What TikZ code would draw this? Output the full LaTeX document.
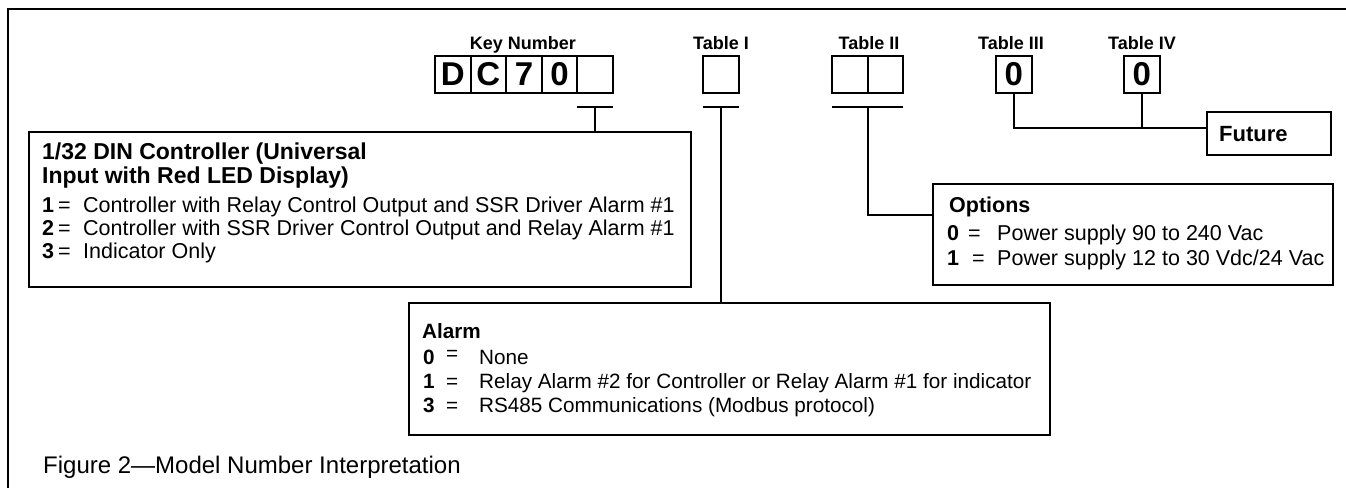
\documentclass[tikz,border=0pt]{standalone}
\usepackage{fontspec}
\setmainfont{Liberation Sans}
\usetikzlibrary{positioning}
\tikzstyle{wire}=[line width=2pt]
\tikzstyle{cell}=[draw,line width=2pt,inner sep=0,outer sep=0,minimum width=35.6pt,minimum height=37pt,anchor=north west,font=\fontsize{33}{33}\selectfont\bfseries]
\tikzstyle{tablabel}=[anchor=base,inner sep=0,font=\fontsize{18}{18}\selectfont\bfseries]
\tikzstyle{infobox}=[draw,line width=2pt,inner sep=0,outer sep=0,anchor=north west]
\tikzstyle{txt}=[anchor=base west,inner sep=0,font=\fontsize{21.5}{24}\selectfont]
\tikzstyle{head}=[anchor=base west,inner sep=0,font=\fontsize{21.5}{24}\selectfont\bfseries]

\begin{document}
\begin{tikzpicture}[x=1pt,y=-1pt]
\useasboundingbox (0,0) rectangle (1346,488);
\draw[wire] (1346,9) -- (8,9) -- (8,488);

% model number boxes
\node[tablabel] (keylbl) at (523,49) {Key Number};
\foreach \t [count=\i] in {D,C,7,0,{}}
	\node[cell] (key\i) at ({435+35.6*(\i-1)},56) {\t};
\node[tablabel] (tab1lbl) at (721,49) {Table I};
\node[cell] (tab1) at (703,56) {};
\node[tablabel] (tab2lbl) at (869,49) {Table II};
\node[cell] (tab2a) at (832,56) {};
\node[cell] (tab2b) at (867.6,56) {};
\node[tablabel] (tab3lbl) at (1011,49) {Table III};
\node[cell] (tab3) at (996,56) {0};
\node[tablabel] (tab4lbl) at (1142,49) {Table IV};
\node[cell] (tab4) at (1124,56) {0};

% description boxes
\node[infobox,minimum width=662pt,minimum height=155pt] (ctrl) at (29,132) {};
\node[infobox,minimum width=400pt,minimum height=101pt] (opt) at (933,184) {};
\node[infobox,minimum width=641pt,minimum height=132pt] (alarm) at (409,303) {};
\node[infobox,minimum width=124pt,minimum height=43pt] (future) at (1207,112) {};

% bars and connectors
\coordinate (keybar) at ([yshift=-14pt]key5.south);
\draw[wire] ([yshift=-14pt]key5.south west) -- ([yshift=-14pt]key5.south east);
\draw[wire] (keybar) -- (keybar |- ctrl.north);
\coordinate (tab1bar) at ([yshift=-14pt]tab1.south);
\draw[wire] ([yshift=-14pt]tab1.south west) -- ([yshift=-14pt]tab1.south east);
\draw[wire] (tab1bar) -- (tab1bar |- alarm.north);
\coordinate (tab2bar) at ([yshift=-14pt]tab2a.south east);
\draw[wire] ([yshift=-14pt]tab2a.south west) -- ([yshift=-14pt]tab2b.south east);
\draw[wire] (tab2bar) |- ([yshift=-31pt]opt.north west);
\coordinate (futjoin) at ([yshift=-16pt]future.north west);
\draw[wire] (tab3.south) |- (futjoin);
\draw[wire] (tab4.south) -- (tab4.south |- futjoin);

% texts
\node[head,font=\fontsize{22}{24}\selectfont\bfseries] (futtxt) at (1219,141) {Future};
\node[head,font=\fontsize{23}{24}\selectfont\bfseries] (ctrlhead1) at (42,159) {1/32 DIN Controller (Universal};
\node[head,font=\fontsize{23}{24}\selectfont\bfseries] (ctrlhead2) at (42,183) {Input with Red LED Display)};
\foreach \n/\t [count=\i] in {1/Controller with Relay Control Output and SSR Driver Alarm \#1,
	2/Controller with SSR Driver Control Output and Relay Alarm \#1,
	3/Indicator Only}{
	\node[head] (ctrlnum\i) at (42,{212+23*(\i-1)}) {\n};
	\node[txt] (ctrleq\i) at (58,{212+23*(\i-1)}) {=};
	\node[txt] (ctrltxt\i) at (83,{212+23*(\i-1)}) {\t};
}
\node[head] (opthead) at (949,212) {Options};
\foreach \n/\t [count=\i] in {0/{Power supply 90 to 240 Vac},1/{Power supply 12 to 30 Vdc/24 Vac}}{
	\node[head] (optnum\i) at (947,{240+25*(\i-1)}) {\n};
	\node[txt] (opteq\i) at ({968+4*(\i-1)},{240+25*(\i-1)}) {=};
	\node[txt] (opttxt\i) at (997,{240+25*(\i-1)}) {\t};
}
\node[head,font=\fontsize{20.7}{24}\selectfont\bfseries] (alarmhead) at (422,338) {Alarm};
\foreach \n/\r/\t [count=\i] in {0/4/None,1/0/Relay Alarm \#2 for Controller or Relay Alarm \#1 for indicator,
	3/0/RS485 Communications (Modbus protocol)}{
	\node[head,font=\fontsize{20.7}{24}\selectfont\bfseries] (alarmnum\i) at (423,{364+24*(\i-1)}) {\n};
	\node[txt,font=\fontsize{20.7}{24}\selectfont] (alarmeq\i) at (446,{364+24*(\i-1)-\r}) {=};
	\node[txt,font=\fontsize{20.7}{24}\selectfont] (alarmtxt\i) at (479,{364+24*(\i-1)}) {\t};
}
\node[anchor=base west,inner sep=0,font=\fontsize{24}{24}\selectfont] (caption) at (43,473) {Figure 2---Model Number Interpretation};
\end{tikzpicture}
\end{document}
